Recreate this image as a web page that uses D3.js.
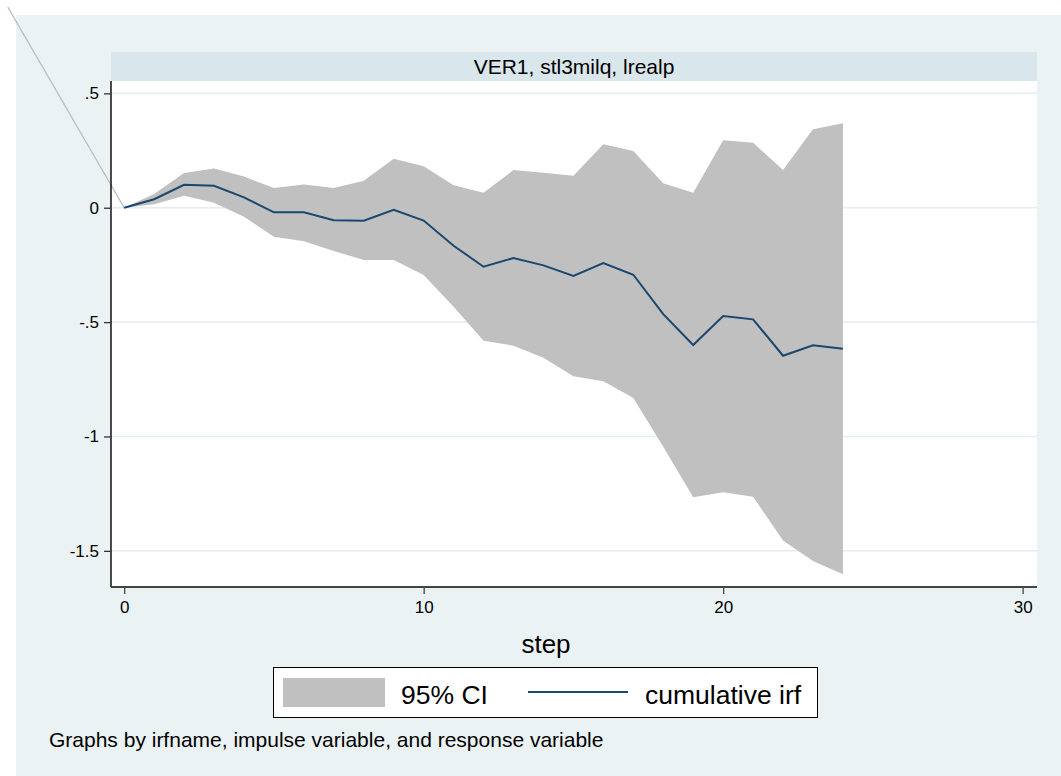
<!DOCTYPE html>
<html>
<head>
<meta charset="utf-8">
<script src="https://cdn.jsdelivr.net/npm/d3@7"></script>
<style>
  body { margin: 0; background: #fff; }
  text { font-family: "Liberation Sans", Arial, sans-serif; fill: #000; }
</style>
</head>
<body>
<div id="chart"></div>
<script>
// cumulative irf for VER1, impulse stl3milq, response lrealp
const steps = d3.range(0, 25);
const irf = [0, 0.037, 0.10, 0.096, 0.045, -0.02, -0.02, -0.055, -0.057, -0.009, -0.056,
  -0.166, -0.258, -0.22, -0.252, -0.298, -0.242, -0.293, -0.465, -0.60, -0.473,
  -0.488, -0.647, -0.601, -0.616];
const upper = [0, 0.06, 0.152, 0.171, 0.136, 0.086, 0.102, 0.086, 0.118, 0.214, 0.181,
  0.098, 0.066, 0.165, 0.153, 0.14, 0.278, 0.248, 0.107, 0.066, 0.295,
  0.284, 0.165, 0.343, 0.369];
const lower = [0, 0.015, 0.052, 0.022, -0.039, -0.127, -0.147, -0.189, -0.229, -0.229, -0.294,
  -0.433, -0.581, -0.603, -0.656, -0.737, -0.759, -0.832, -1.045, -1.266, -1.244,
  -1.263, -1.455, -1.544, -1.602];
// stray outline segment of the CI area (step, value)
const ciStray = [[-3.885, 0.877], [0, 0]];

const xTicks = [0, 10, 20, 30];
const yTicks = [0.5, 0, -0.5, -1, -1.5];
const yTickLabels = [".5", "0", "-.5", "-1", "-1.5"];

const panelTitle = "VER1, stl3milq, lrealp";
const xTitle = "step";
const legendLabels = ["95% CI", "cumulative irf"];
const note = "Graphs by irfname, impulse variable, and response variable";

const W = 1061, H = 776;
const plot = {left: 111, right: 1037, top: 81, bottom: 587};

const svg = d3.select("#chart").append("svg")
    .attr("width", W)
    .attr("height", H);

// graph background
svg.append("rect")
    .attr("x", 16).attr("y", 15)
    .attr("width", W - 16).attr("height", H - 15)
    .attr("fill", "#eaf2f3");

// panel title strip
svg.append("rect")
    .attr("x", plot.left).attr("y", 52)
    .attr("width", plot.right - plot.left).attr("height", plot.top - 52)
    .attr("fill", "#d9e6eb");
svg.append("text")
    .attr("x", (plot.left + plot.right) / 2)
    .attr("y", 74)
    .attr("text-anchor", "middle")
    .attr("font-size", 21)
    .text(panelTitle);

// plot region
svg.append("rect")
    .attr("x", plot.left).attr("y", plot.top)
    .attr("width", plot.right - plot.left).attr("height", plot.bottom - plot.top)
    .attr("fill", "#fff");

const x = d3.scaleLinear().domain([-0.44, 30.48]).range([plot.left, plot.right]);
const y = d3.scaleLinear().domain([-1.658, 0.554]).range([plot.bottom, plot.top]);

// gridlines
svg.append("g")
  .selectAll("line")
  .data(yTicks)
  .join("line")
    .attr("x1", plot.left).attr("x2", plot.right)
    .attr("y1", d => y(d)).attr("y2", d => y(d))
    .attr("stroke", "#e4edf1")
    .attr("stroke-width", 1.5);

const rows = steps.map((s, i) => ({step: s, irf: irf[i], lo: lower[i], hi: upper[i]}));

const area = d3.area()
    .x(d => x(d.step))
    .y0(d => y(d.lo))
    .y1(d => y(d.hi));

svg.append("path")
    .datum(rows)
    .attr("d", area)
    .attr("fill", "#c0c0c0");

svg.append("path")
    .datum(ciStray)
    .attr("d", d3.line().x(d => x(d[0])).y(d => y(d[1])))
    .attr("fill", "none")
    .attr("stroke", "#bdbdbd")
    .attr("stroke-width", 1.3);

svg.append("path")
    .datum(rows)
    .attr("d", d3.line().x(d => x(d.step)).y(d => y(d.irf)))
    .attr("fill", "none")
    .attr("stroke", "#1a476f")
    .attr("stroke-width", 2);

// axes
const yAxis = svg.append("g")
    .attr("transform", `translate(${plot.left},0)`)
    .call(d3.axisLeft(y).tickValues(yTicks)
      .tickFormat((d, i) => yTickLabels[i]).tickSize(7).tickPadding(5));
yAxis.select(".domain")
    .attr("d", `M0,${plot.top}V${plot.bottom}`)
    .attr("stroke", "#000").attr("stroke-width", 1.4);
yAxis.selectAll(".tick line").attr("stroke", "#333").attr("stroke-width", 1.3);
yAxis.selectAll(".tick text")
    .attr("font-size", 17)
    .attr("font-family", "Liberation Sans, Arial, sans-serif")
    .attr("fill", "#000");

const xAxis = svg.append("g")
    .attr("transform", `translate(0,${plot.bottom})`)
    .call(d3.axisBottom(x).tickValues(xTicks).tickSize(7).tickPadding(7));
xAxis.select(".domain")
    .attr("d", `M${plot.left},0H${plot.right}`)
    .attr("stroke", "#444").attr("stroke-width", 2);
xAxis.selectAll(".tick line").attr("stroke", "#444").attr("stroke-width", 1.3);
xAxis.selectAll(".tick text")
    .attr("font-size", 17)
    .attr("font-family", "Liberation Sans, Arial, sans-serif")
    .attr("fill", "#000");

svg.append("text")
    .attr("x", 546).attr("y", 653)
    .attr("text-anchor", "middle")
    .attr("font-size", 26)
    .text(xTitle);

// legend
const leg = svg.append("g");
leg.append("rect")
    .attr("x", 273.5).attr("y", 667.5)
    .attr("width", 544).attr("height", 50)
    .attr("fill", "#fff")
    .attr("stroke", "#000")
    .attr("stroke-width", 1);
leg.append("rect")
    .attr("x", 283).attr("y", 678)
    .attr("width", 102).attr("height", 29)
    .attr("fill", "#c0c0c0");
leg.append("text")
    .attr("x", 401).attr("y", 704)
    .attr("font-size", 26.5)
    .text(legendLabels[0]);
leg.append("line")
    .attr("x1", 528).attr("x2", 628)
    .attr("y1", 692).attr("y2", 692)
    .attr("stroke", "#1a476f")
    .attr("stroke-width", 2);
leg.append("text")
    .attr("x", 645).attr("y", 704)
    .attr("font-size", 26.5)
    .text(legendLabels[1]);

svg.append("text")
    .attr("x", 49).attr("y", 747)
    .attr("font-size", 21)
    .text(note);
</script>
</body>
</html>
